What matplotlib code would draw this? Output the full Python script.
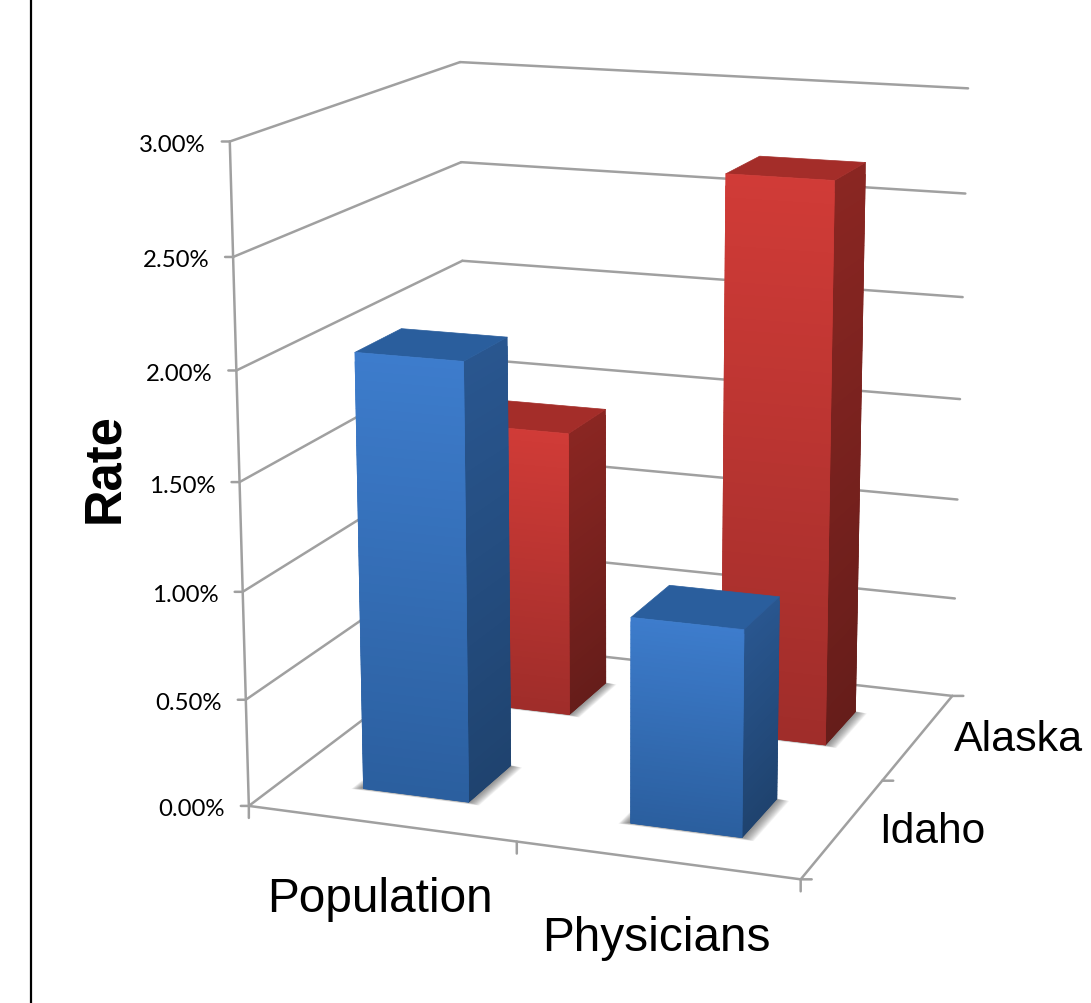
import numpy as np
import matplotlib
matplotlib.use("Agg")
import matplotlib.pyplot as plt
from matplotlib.colors import to_rgb
from matplotlib.lines import Line2D
from mpl_toolkits.mplot3d import proj3d
from mpl_toolkits.mplot3d.art3d import Poly3DCollection

# Rates (percent) by occupation group and state
categories = ["Population", "Physicians"]
states = ["Idaho", "Alaska"]
idaho_rates = [2.03, 0.95]
alaska_rates = [1.40, 2.69]
rate_ticks = [0.0, 0.5, 1.0, 1.5, 2.0, 2.5, 3.0]

WIDTH, HEIGHT = 1091, 1004
BAR_HALF = 0.2
GRID = "#a0a0a0"
ARIAL = "Liberation Sans"

BLUE = dict(front=("#3d7ccc", "#2b5f9f"), side=("#29568f", "#1f436f"), top="#2a5e9d")
RED = dict(front=("#d03b37", "#a02d2a"), side=("#8a2622", "#661d1a"), top="#a42d29")

fig = plt.figure(figsize=(WIDTH / 100, HEIGHT / 100), dpi=100, facecolor="white")
ax = fig.add_axes([101.42 / WIDTH, 48.83 / HEIGHT, HEIGHT / WIDTH, 1], projection="3d")
ax.computed_zorder = False
ax.set_xlim(-0.5, 1.5, view_margin=0)
ax.set_ylim(-0.5, 1.5, view_margin=0)
ax.set_zlim(0, 3, view_margin=0)
ax.view_init(14.3703, -70.0941)
ax.set_proj_type("persp", focal_length=0.6233)
ax.set_box_aspect((0.8586, 0.8528, 1), zoom=0.994)
ax.set_axis_off()

x_lo, x_hi = ax.get_xlim()
y_lo, y_hi = ax.get_ylim()
z_top = rate_ticks[-1]


def line3d(xs, ys, zs, zorder=1):
    ax.plot(xs, ys, zs, color=GRID, lw=1.8, zorder=zorder, solid_capstyle="round")


def to_2d(x, y, z):
    px, py, _ = proj3d.proj_transform(x, y, z, ax.get_proj())
    return float(px), float(py)


def tick(x, y, z, dx, dy):
    ax.annotate("", xy=to_2d(x, y, z), xytext=(dx, dy), textcoords="offset pixels",
                annotation_clip=False,
                arrowprops=dict(arrowstyle="-", color=GRID, lw=1.8, shrinkA=0, shrinkB=0))


def label(x, y, z, text, dx, dy, **kw):
    ax.annotate(text, xy=to_2d(x, y, z), xytext=(dx, dy), textcoords="offset pixels",
                annotation_clip=False, **kw)


def gradient(pair, n):
    a, b = np.array(to_rgb(pair[0])), np.array(to_rgb(pair[1]))
    return [tuple(a + (b - a) * t) for t in np.linspace(0, 1, n)]


def patch(vertices, color, zorder, edge=None):
    ax.add_collection3d(Poly3DCollection([vertices], facecolors=color,
                                         edgecolors=edge if edge is not None else "none",
                                         linewidths=0.5, zorder=zorder), autolim=False)


def shadow(xc, yc, zorder):
    # Soft contact shadow on the floor, built from nested translucent footprints
    for grow in np.linspace(0.05, 0.004, 14):
        x0, x1 = xc - BAR_HALF - grow * 0.7, xc + BAR_HALF + grow
        y0, y1 = yc - BAR_HALF - grow * 0.45, yc + BAR_HALF - grow * 0.2
        patch([(x0, y0, 0), (x1, y0, 0), (x1, y1, 0), (x0, y1, 0)],
              (0.2, 0.2, 0.2, 0.055), zorder)


def bar(xc, yc, value, palette, zorder, strips=48):
    x0, x1 = xc - BAR_HALF, xc + BAR_HALF
    y0, y1 = yc - BAR_HALF, yc + BAR_HALF
    levels = np.linspace(value, 0, strips + 1)
    overlap = levels[0] - levels[1]
    shadow(xc, yc, zorder)
    # Strips run top to bottom and each one is covered by the next, so no seams show
    side_colors = gradient(palette["side"], strips)
    front_colors = gradient(palette["front"], strips)
    for k in range(strips):
        hi, lo = levels[k], max(levels[k + 1] - overlap, 0)
        step = k / (10 * strips)
        patch([(x1, y0, lo), (x1, y1, lo), (x1, y1, hi), (x1, y0, hi)],
              side_colors[k], zorder + 0.1 + step, edge=side_colors[k])
        patch([(x0, y0, lo), (x1, y0, lo), (x1, y0, hi), (x0, y0, hi)],
              front_colors[k], zorder + 0.3 + step, edge=front_colors[k])
    patch([(x0, y0, value), (x1, y0, value), (x1, y1, value), (x0, y1, value)],
          palette["top"], zorder + 0.25, edge=palette["top"])


# Walls and floor outline
for z in rate_ticks:
    line3d([x_lo, x_lo], [y_lo, y_hi], [z, z])
    line3d([x_lo, x_hi], [y_hi, y_hi], [z, z])
line3d([x_lo, x_lo], [y_lo, y_lo], [0, z_top])
line3d([x_lo, x_hi], [y_lo, y_lo], [0, 0])
line3d([x_hi, x_hi], [y_lo, y_hi], [0, 0])

# Tick marks and value labels on the rate axis
for z in rate_ticks:
    tick(x_lo, y_lo, z, -8, 0)
    label(x_lo, y_lo, z, f"{z:.2f}%", -24, -3, ha="right", va="center",
          fontsize=17.3, family="Lato", color="black")

for xt in (x_lo, x_lo + 1, x_hi):
    tick(xt, y_lo, 0, 0, -12)
for yt in (y_lo, y_lo + 1, y_hi):
    tick(x_hi, yt, 0, 11, 0)

# Bars, back row first so the front row overlaps it
for i, (value, zo) in enumerate(zip(alaska_rates, (3, 4))):
    bar(i, 1, value, RED, zo)
for i, (value, zo) in enumerate(zip(idaho_rates, (5, 6))):
    bar(i, 0, value, BLUE, zo)

# Category and state labels
for i, (name, dx, dy) in enumerate(zip(categories, (-1, 0), (-75, -77))):
    label(i, y_lo, 0, name, dx, dy, ha="center", va="center", fontsize=34.4,
          family=ARIAL, color="black")
for j, (name, size, dx, dy) in enumerate(zip(states, (30.6, 31), (89, 100), (-3, -2))):
    label(x_hi, j, 0, name, dx, dy, ha="center", va="center", fontsize=size,
          family=ARIAL, color="black")

fig.text(105 / WIDTH, 1 - 468 / HEIGHT, "Rate", rotation=90, ha="center", va="center",
         fontsize=36.5, fontweight="bold", family=ARIAL, color="black")

# Rule down the left side of the slide
fig.add_artist(Line2D([31 / WIDTH, 31 / WIDTH], [0, 1], color="black", lw=1.6,
                      transform=fig.transFigure))

fig.savefig("out.png", dpi=100, facecolor="white")
